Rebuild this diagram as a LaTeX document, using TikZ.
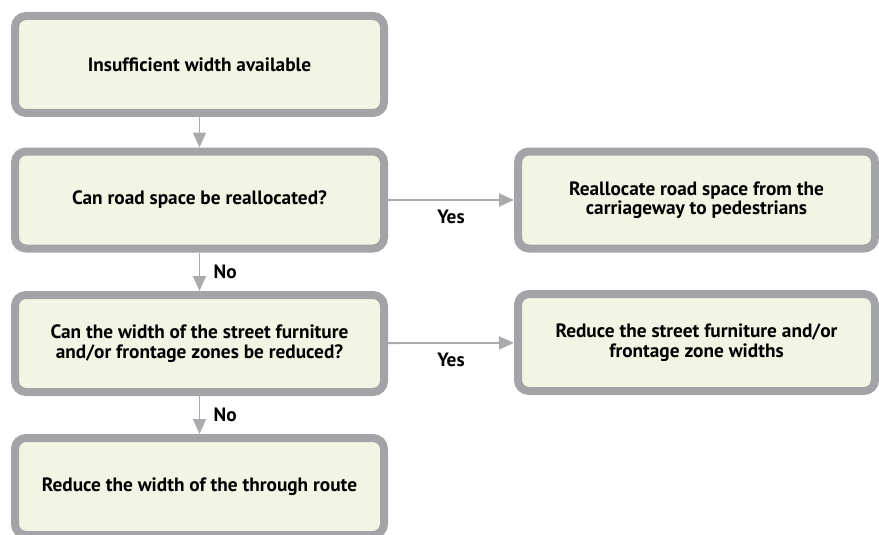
\documentclass[tikz,border=0pt]{standalone}
\usepackage{fontspec}
\setmainfont{PT Sans}
\usepackage{tikz}
\usetikzlibrary{arrows.meta, positioning}

\definecolor{boxfill}{HTML}{F3F5E4}
\definecolor{boxline}{HTML}{A3A4A8}
\definecolor{arrowline}{HTML}{ABABAF}

\begin{document}
\begin{tikzpicture}[x=1pt, y=-1pt]
		\tikzstyle{Box} = [rectangle, rounded corners=11pt, minimum width=369pt, minimum height=97pt, align=center, draw=boxline, line width=8pt, fill=boxfill, font=\bfseries\fontsize{19.3}{19.5}\selectfont]
		\tikzstyle{Wide} = [Box, minimum width=357pt]
		\tikzstyle{arrow} = [draw=arrowline, line width=1.8pt, -{Triangle[length=15pt, width=13pt]}]
		\tikzstyle{Label} = [font=\bfseries\fontsize{19.3}{19.5}\selectfont]
		
		\useasboundingbox (0,0) rectangle (879,535);
		\begin{scope}
		\clip (0,0) rectangle (879,535);
		
		\node (start) [Box] at (199.5,64.5) {Insufficient width available};
		\node (realloc) [Box] at (199.5,200) {Can road space be reallocated?};
		\node (furniture) [Box] at (199.5,343.5) {Can the width of the street furniture\\and/or frontage zones be reduced?};
		\node (through) [Box] at (199.5,486.5) {Reduce the width of the through route};
		
		\node (space) [Wide] at (696.5,200) {Reallocate road space from the\\carriageway to pedestrians};
		\node (zones) [Wide] at (696.5,342.5) {Reduce the street furniture and/or\\frontage zone widths};
		
		\draw [arrow] (start) -- (realloc);
		\draw [arrow] (realloc) -- node [Label, right=10pt] {No} (furniture);
		\draw [arrow] (furniture) -- node [Label, right=10pt] {No} (through);
		\draw [arrow] (realloc) -- node [Label, below=6pt] {Yes} (space);
		\draw [arrow] (furniture) -- node [Label, below=6pt] {Yes} (zones);
		\end{scope}
\end{tikzpicture}
\end{document}
